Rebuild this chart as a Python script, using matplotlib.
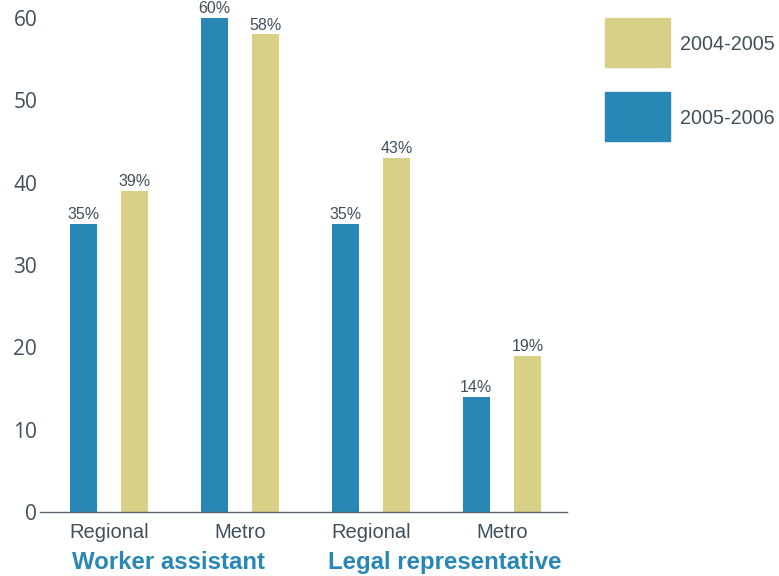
import matplotlib
matplotlib.use("Agg")
import matplotlib.pyplot as plt
from matplotlib.patches import Rectangle

plt.rcParams['font.family'] = ['Liberation Sans', 'DejaVu Sans']

categories = ["Regional", "Metro", "Regional", "Metro"]
groups = ["Worker assistant", "Legal representative"]
vals_0506 = [35, 60, 35, 14]
vals_0405 = [39, 58, 43, 19]
series_names = ["2004-2005", "2005-2006"]

blue = "#2887b5"
gold = "#d9d088"
txt = "#3f505c"

fig = plt.figure(figsize=(7.79, 5.76), dpi=100)
ax = fig.add_axes([40 / 779, 1 - 512 / 576, 527 / 779, 494 / 576])

x = list(range(len(categories)))
w = 0.206
off = 0.196
b1 = ax.bar([i - off for i in x], vals_0506, w, color=blue)
b2 = ax.bar([i + off for i in x], vals_0405, w, color=gold)

for bars, vals in ((b1, vals_0506), (b2, vals_0405)):
    for b, v in zip(bars, vals):
        ax.text(b.get_x() + b.get_width() / 2, v + 0.2, f"{v}%",
                ha="center", va="bottom", fontsize=11.5, color=txt)

ax.set_xlim(-0.525, 3.498)
ax.set_ylim(0, 60)
ax.set_yticks([0, 10, 20, 30, 40, 50, 60])
ax.set_yticklabels([str(t) for t in [0, 10, 20, 30, 40, 50, 60]],
                   family=["Open Sans", "DejaVu Sans"])
ax.tick_params(axis="y", length=0, labelsize=15, labelcolor=txt, pad=2)
ax.set_xticks(x)
ax.set_xticklabels(categories)
ax.tick_params(axis="x", length=0, labelsize=14.5, labelcolor=txt, pad=8)

for s in ("top", "right", "left"):
    ax.spines[s].set_visible(False)
ax.spines["bottom"].set_color("#5a6670")
ax.spines["bottom"].set_linewidth(1.0)

group_x = [-off - w / 2 + 0.015, 2 - off - w / 2 - 0.03]
for gx, g in zip(group_x, groups):
    ax.text(gx, -0.103, g, transform=ax.get_xaxis_transform(),
            ha="left", va="center", fontsize=17.3, fontweight="bold", color=blue)

# legend drawn in figure pixels
for (y0, col, name) in ((18, gold, series_names[0]), (92, blue, series_names[1])):
    fig.patches.append(Rectangle((605 / 779, 1 - (y0 + 49) / 576), 65 / 779, 49 / 576,
                                 transform=fig.transFigure, color=col))
    fig.text(680 / 779, 1 - (y0 + 26) / 576, name, ha="left", va="center",
             fontsize=14.2, color=txt)

fig.savefig("out.png", dpi=100)
